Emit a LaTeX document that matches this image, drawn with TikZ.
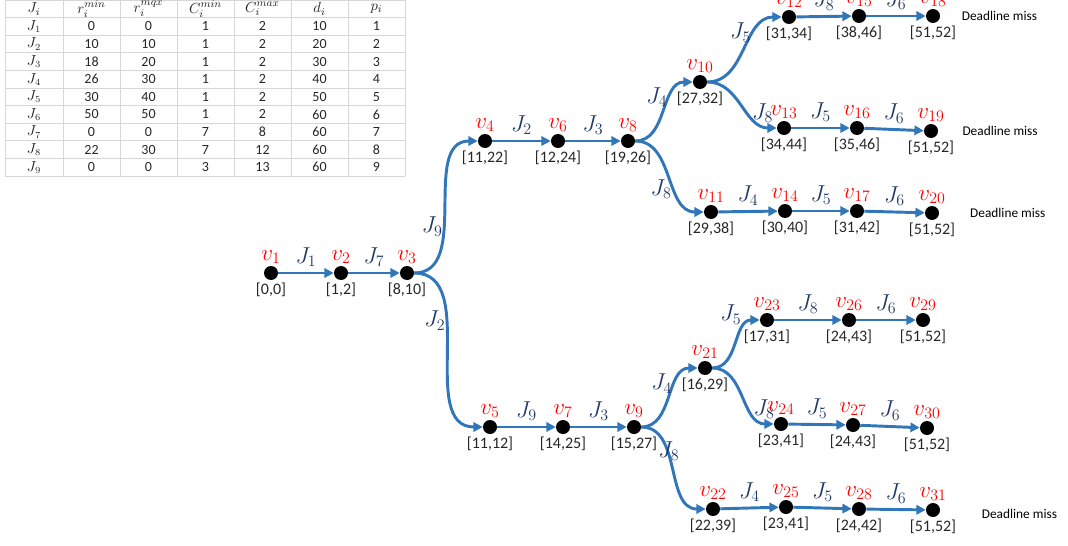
\documentclass[tikz,border=0pt]{standalone}
\usepackage{fontspec}
\setmainfont{Carlito}
\usetikzlibrary{arrows.meta,positioning}

\definecolor{flowblue}{RGB}{50,118,186}
\definecolor{jobblue}{RGB}{31,56,100}
\definecolor{gridgray}{RGB}{215,215,215}

\tikzset{
  state/.style={circle,fill=black,inner sep=0pt,minimum size=10.5pt},
  vname/.style={text=red,font=\fontsize{17}{17}\selectfont,inner sep=1.5pt},
  window/.style={text=black!85,font=\fontsize{12}{12}\selectfont,inner sep=2pt},
  vtx/.style 2 args={state,label={[vname]above:$v_{#1}$},label={[window]below:{[#2]}}},
  flow/.style={draw=flowblue,line width=2.2pt,-{Triangle[length=7pt,width=7pt]}},
  job/.style={text=jobblue,font=\fontsize{17}{17}\selectfont,inner sep=1.5pt},
  miss/.style={font=\fontsize{10}{10}\selectfont,inner sep=0pt},
  cell/.style={text=black!85,font=\fontsize{10.5}{10.5}\selectfont,inner sep=0pt},
  head/.style={cell,font=\fontsize{11}{11}\selectfont}
}

\begin{document}
\begin{tikzpicture}[x=0.75pt,y=-0.75pt]
\useasboundingbox (0,0) rectangle (1068,546);

% Job table
\foreach \y in {0,17.6,...,177} \draw[gridgray,line width=0.6pt] (5,\y) -- (405,\y);
\foreach \x in {5,63,120,177,234,291,348,405} \draw[gridgray,line width=0.6pt] (\x,0) -- (\x,176);
\node[head] (h1) at (34,9) {$J_i$};
\node[head] (h2) at (91.5,9) {$r_i^{min}$};
\node[head] (h3) at (148.5,9) {$r_i^{mqx}$};
\node[head] (h4) at (205.5,9) {$C_i^{min}$};
\node[head] (h5) at (262.5,9) {$C_i^{max}$};
\node[head] (h6) at (319.5,9) {$d_i$};
\node[head] (h7) at (376.5,9) {$p_i$};
\foreach \a/\b/\c/\d/\e/\f [count=\r] in {0/0/1/2/10/1,10/10/1/2/20/2,18/20/1/2/30/3,
    26/30/1/2/40/4,30/40/1/2/50/5,50/50/1/2/60/6,0/0/7/8/60/7,22/30/7/12/60/8,0/0/3/13/60/9}{
  \node[cell] (j\r) at (34,8.8+17.6*\r) {$J_{\r}$};
  \node[cell] (a\r) at (91.5,8.8+17.6*\r) {\a};
  \node[cell] (b\r) at (148.5,8.8+17.6*\r) {\b};
  \node[cell] (c\r) at (205.5,8.8+17.6*\r) {\c};
  \node[cell] (d\r) at (262.5,8.8+17.6*\r) {\d};
  \node[cell] (e\r) at (319.5,8.8+17.6*\r) {\e};
  \node[cell] (f\r) at (376.5,8.8+17.6*\r) {\f};
}

% Root chain
\node[vtx={1}{0,0}] (v1) at (271,273) {};
\node[vtx={2}{1,2}] (v2) at (341,273) {};
\node[vtx={3}{8,10}] (v3) at (407,273) {};

% Upper half
\node[vtx={4}{11,22}] (v4) at (485,141) {};
\node[vtx={6}{12,24}] (v6) at (558,141) {};
\node[vtx={8}{19,26}] (v8) at (628,141) {};
\node[vtx={10}{27,32}] (v10) at (700,82) {};
\node[vtx={12}{31,34}] (v12) at (789,17) {};
\node[vtx={15}{38,46}] (v15) at (859,16) {};
\node[vtx={18}{51,52}] (v18) at (933,16) {};
\node[vtx={13}{34,44}] (v13) at (784,128) {};
\node[vtx={16}{35,46}] (v16) at (857,128) {};
\node[vtx={19}{51,52}] (v19) at (931,131) {};
\node[vtx={11}{29,38}] (v11) at (711,212) {};
\node[vtx={14}{30,40}] (v14) at (785,211) {};
\node[vtx={17}{31,42}] (v17) at (857,211) {};
\node[vtx={20}{51,52}] (v20) at (932,213) {};

% Lower half
\node[vtx={5}{11,12}] (v5) at (490,427) {};
\node[vtx={7}{14,25}] (v7) at (563,427) {};
\node[vtx={9}{15,27}] (v9) at (634,427) {};
\node[vtx={21}{16,29}] (v21) at (705,368) {};
\node[vtx={23}{17,31}] (v23) at (767,320) {};
\node[vtx={26}{24,43}] (v26) at (849,320) {};
\node[vtx={29}{51,52}] (v29) at (923,320) {};
\node[vtx={24}{23,41}] (v24) at (781,424) {};
\node[vtx={27}{24,43}] (v27) at (853,425) {};
\node[vtx={30}{51,52}] (v30) at (927,428) {};
\node[vtx={22}{22,39}] (v22) at (713,509) {};
\node[vtx={25}{23,41}] (v25) at (786,507) {};
\node[vtx={28}{24,42}] (v28) at (859,509) {};
\node[vtx={31}{51,52}] (v31) at (933,510) {};

% Flows
\draw[flow] (v1) -- node[job,above=2pt] {$J_1$} (v2);
\draw[flow] (v2) -- node[job,above=2pt] {$J_7$} (v3);
\draw[flow] (v3) to[out=0,in=180] node[job,pos=0.4,left=-1pt] {$J_9$} (v4);
\draw[flow] (v3) to[out=0,in=180] node[job,pos=0.37,left=-1pt] {$J_2$} (v5);

\draw[flow] (v4) -- node[job,above=2pt] {$J_2$} (v6);
\draw[flow] (v6) -- node[job,above=2pt] {$J_3$} (v8);
\draw[flow] (v8) to[out=0,in=180] node[job,pos=0.67,left] {$J_4$} (v10);
\draw[flow] (v8) to[out=0,in=180] node[job,pos=0.62,left] {$J_8$} (v11);
\draw[flow] (v10) to[out=0,in=180] node[job,pos=0.68,left] {$J_5$} (v12);
\draw[flow] (v10) to[out=0,in=180] node[job,pos=0.62,right] {$J_8$} (v13);
\draw[flow] (v12) -- node[job,above=2pt] {$J_8$} (v15);
\draw[flow] (v15) -- node[job,above=2pt] {$J_6$} (v18);
\draw[flow] (v13) -- node[job,above=2pt] {$J_5$} (v16);
\draw[flow] (v16) -- node[job,above=2pt] {$J_6$} (v19);
\draw[flow] (v11) -- node[job,above=2pt] {$J_4$} (v14);
\draw[flow] (v14) -- node[job,above=2pt] {$J_5$} (v17);
\draw[flow] (v17) -- node[job,above=2pt] {$J_6$} (v20);

\draw[flow] (v5) -- node[job,above=2pt] {$J_9$} (v7);
\draw[flow] (v7) -- node[job,above=2pt] {$J_3$} (v9);
\draw[flow] (v9) to[out=0,in=180] node[job,pos=0.66,left] {$J_4$} (v21);
\draw[flow] (v9) to[out=0,in=180] node[job,pos=0.36,right=-10pt] {$J_8$} (v22);
\draw[flow] (v21) to[out=0,in=180] node[job,pos=0.75,above left] {$J_5$} (v23);
\draw[flow] (v21) to[out=0,in=180] node[job,pos=0.66,right] {$J_8$} (v24);
\draw[flow] (v23) -- node[job,above=2pt] {$J_8$} (v26);
\draw[flow] (v26) -- node[job,above=2pt] {$J_6$} (v29);
\draw[flow] (v24) -- node[job,above=2pt] {$J_5$} (v27);
\draw[flow] (v27) -- node[job,above=2pt] {$J_6$} (v30);
\draw[flow] (v22) -- node[job,above=2pt] {$J_4$} (v25);
\draw[flow] (v25) -- node[job,above=2pt] {$J_5$} (v28);
\draw[flow] (v28) -- node[job,above=2pt] {$J_6$} (v31);

% Missed deadlines
\node[miss,right=16pt of v18] (miss1) {Deadline miss};
\node[miss,right=18pt of v19] (miss2) {Deadline miss};
\node[miss,right=23pt of v20] (miss3) {Deadline miss};
\node[miss,right=31pt of v31,yshift=-3pt] (miss4) {Deadline miss};
\end{tikzpicture}
\end{document}
